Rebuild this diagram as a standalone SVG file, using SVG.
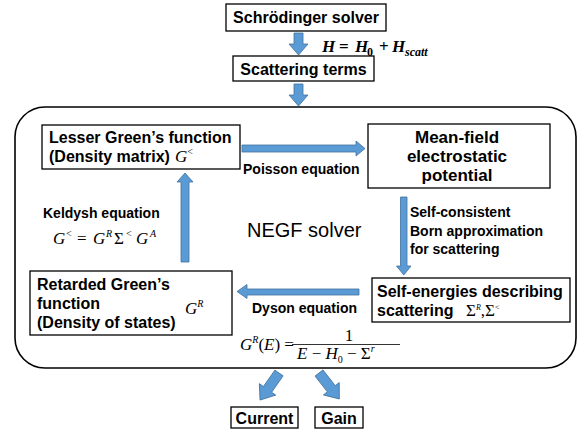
<svg xmlns="http://www.w3.org/2000/svg" width="578" height="434" viewBox="0 0 578 434">
<style>
.box{fill:#fff;stroke:#000;stroke-width:1.3}
.big{fill:none;stroke:#000;stroke-width:1.6}
.t{font-family:"Liberation Sans",Arial,sans-serif;font-weight:bold;font-size:16px;fill:#000}
.tm{font-family:"Liberation Sans",Arial,sans-serif;font-weight:bold;font-size:17px;fill:#000}
.lab{font-family:"Liberation Sans",Arial,sans-serif;font-weight:bold;font-size:14px;fill:#000}
.negf{font-family:"Liberation Sans",Arial,sans-serif;font-size:20px;fill:#000}
.m{font-family:"Liberation Serif","Times New Roman",serif;font-size:17px;fill:#000}
.mi{font-style:italic}
.hb{font-family:"Liberation Serif","Times New Roman",serif;font-weight:bold;font-style:italic;font-size:17px;fill:#000}
.arr{fill:#5B9BD5;stroke:#41719C;stroke-width:0.8}
</style>
<g id="schrodinger">
<rect class="box" x="226" y="4" width="160" height="27"/>
<text class="t" x="306" y="23" text-anchor="middle">Schrödinger solver</text>
</g>
<g id="scattering-terms">
<rect class="box" x="233" y="56" width="141" height="25"/>
<text class="t" x="303.5" y="75" text-anchor="middle">Scattering terms</text>
</g>
<g id="negf-solver">
<rect class="big" x="15" y="107" width="561" height="261" rx="30" ry="30"/>
<text class="negf" x="247" y="237">NEGF solver</text>
</g>
<g id="lesser">
<rect class="box" x="42" y="125" width="198" height="44"/>
<text class="t" x="49" y="143">Lesser Green’s function</text>
<text class="t" x="49" y="162">(Density matrix)</text>
<text class="m" x="175" y="162" font-size="18"><tspan class="mi">G</tspan><tspan font-size="10" dy="-7">&lt;</tspan></text>
</g>
<g id="mean-field">
<rect class="box" x="368" y="124" width="182" height="64"/>
<text class="tm" x="457" y="143" text-anchor="middle">Mean-field</text>
<text class="tm" x="457" y="162" text-anchor="middle">electrostatic</text>
<text class="tm" x="457" y="181" text-anchor="middle">potential</text>
</g>
<g id="self-energies">
<rect class="box" x="372" y="278" width="198" height="44"/>
<text class="t" x="377" y="297">Self-energies describing</text>
<text class="t" x="377" y="316">scattering</text>
<text class="m" x="466" y="316" font-size="14" fill="#333">Σ<tspan font-size="8" dy="-6" class="mi">R</tspan><tspan dy="6">,Σ</tspan><tspan font-size="8" dy="-6">&lt;</tspan></text>
</g>
<g id="retarded">
<rect class="box" x="30" y="271" width="202" height="64"/>
<text class="t" x="37" y="290">Retarded Green’s</text>
<text class="t" x="37" y="309">function</text>
<text class="t" x="37" y="328">(Density of states)</text>
<text class="m" x="185" y="314" font-size="18"><tspan class="mi">G</tspan><tspan font-size="10" dy="-7" class="mi">R</tspan></text>
</g>
<g id="current">
<rect class="box" x="231" y="407" width="67" height="21"/>
<text class="t" x="264.5" y="424" text-anchor="middle">Current</text>
</g>
<g id="gain">
<rect class="box" x="315" y="407" width="48" height="21"/>
<text class="t" x="339" y="424" text-anchor="middle">Gain</text>
</g>
<g id="connectors">
<path class="arr" d="M294,33 H303 V44 H308 L298.5,55 L289,44 H294 Z"/>
<path class="arr" d="M294,84 H303 V95 H308 L298.5,106 L289,95 H294 Z"/>
<path class="arr" d="M242,145 H356 V141 L365,148.5 L356,156 V152 H242 Z"/>
<path class="arr" d="M400.5,197 H407 V266 H411 L403.8,275 L396.5,266 H400.5 Z"/>
<path class="arr" d="M359,289 H247 V284.5 L237,291.5 L247,298.5 V295 H359 Z"/>
<path class="arr" d="M181,262 V182 H177 L185,173 L193,182 H189 V262 Z"/>
<path class="arr" transform="translate(279,373) rotate(35)" d="M-5,0 H5 V20 H10 L0,33 L-10,20 H-5 Z"/>
<path class="arr" transform="translate(319,373) rotate(-38)" d="M-5,0 H5 V20 H10 L0,33 L-10,20 H-5 Z"/>
</g>
<g id="labels">
<text class="hb" y="52"><tspan x="322">H</tspan><tspan x="339" font-style="normal">=</tspan><tspan x="355">H</tspan><tspan x="367" y="56" font-size="12" font-style="normal">0</tspan><tspan x="379" y="52" font-style="normal">+</tspan><tspan x="392">H</tspan><tspan x="405" y="56" font-size="12">scatt</tspan></text>
<text class="lab" x="243" y="174">Poisson equation</text>
<text class="lab" x="43" y="218">Keldysh equation</text>
<text class="m" font-size="18" y="244"><tspan class="mi" x="53">G</tspan><tspan font-size="10" x="66" y="237">&lt;</tspan><tspan x="77" y="244">=</tspan><tspan class="mi" x="93">G</tspan><tspan font-size="10" x="106" y="237" class="mi">R</tspan><tspan x="114" y="244">Σ</tspan><tspan font-size="10" x="126" y="237">&lt;</tspan><tspan class="mi" x="136" y="244">G</tspan><tspan font-size="10" x="150" y="237" class="mi">A</tspan></text>
<text class="lab" x="410" y="217">Self-consistent</text>
<text class="lab" x="410" y="236">Born approximation</text>
<text class="lab" x="410" y="254">for scattering</text>
<text class="lab" x="252" y="313">Dyson equation</text>
<text class="m" x="240" y="350"><tspan class="mi">G</tspan><tspan font-size="10" dy="-7" class="mi">R</tspan><tspan dy="7">(</tspan><tspan class="mi">E</tspan><tspan>) =</tspan></text>
<text class="m" x="349" y="341" text-anchor="middle" font-size="18">1</text>
<line x1="292" y1="344.5" x2="400" y2="344.5" stroke="#000" stroke-width="0.8"/>
<text class="m" x="297" y="359"><tspan class="mi">E</tspan><tspan> − </tspan><tspan class="mi">H</tspan><tspan font-size="10" dy="4">0</tspan><tspan dy="-4"> − Σ</tspan><tspan font-size="10" dy="-7" class="mi">r</tspan></text>
</g>
</svg>
